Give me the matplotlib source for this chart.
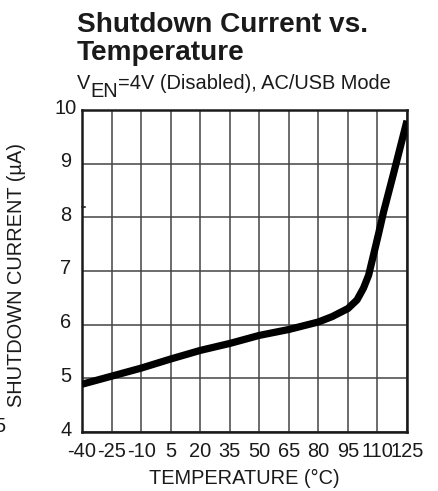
import matplotlib
matplotlib.use("Agg")
import matplotlib.pyplot as plt
import matplotlib.transforms as mtransforms

# Data
temperature = [-40, -25, -10, 5, 20, 35, 50, 65, 80, 87, 95, 99.6, 102.9, 105.5,
               108, 110.6, 113.1, 118.2, 125]
current = [4.89, 5.04, 5.19, 5.36, 5.52, 5.65, 5.80, 5.91, 6.05, 6.15, 6.30, 6.46,
           6.68, 6.92, 7.30, 7.70, 8.10, 8.82, 9.80]
x_ticks = [-40, -25, -10, 5, 20, 35, 50, 65, 80, 95, 110, 125]
y_ticks = [4, 5, 6, 7, 8, 9, 10]

plt.rcParams['font.family'] = ['Liberation Sans', 'DejaVu Sans']

FS = 14.4
TXT = '#1a1a1a'
W, H = 439, 491
fig = plt.figure(figsize=(W / 100, H / 100), dpi=100)
ax = fig.add_axes([82 / W, 1 - 432 / H, (407 - 82) / W, (432 - 110) / H])

ax.plot(temperature, current, color='black', lw=5.2, solid_capstyle='butt',
        solid_joinstyle='round', zorder=3)

ax.set_xlim(-40, 125)
ax.set_ylim(4, 10)
ax.set_xticks(x_ticks)
ax.set_yticks(y_ticks)
ax.set_xticklabels([str(v) for v in x_ticks], fontsize=FS, color=TXT)
ax.set_yticklabels([str(v) for v in y_ticks], fontsize=FS, color=TXT, ha='center')
ax.tick_params(axis='both', length=0)
ax.tick_params(axis='x', pad=7)
ax.tick_params(axis='y', pad=11.5)
off = mtransforms.ScaledTranslation(0, 4 / 100, fig.dpi_scale_trans)
for lab in ax.get_yticklabels():
    lab.set_transform(lab.get_transform() + off)

ax.grid(True, color='#444444', lw=1.1)
ax.set_axisbelow(True)
for s in ax.spines.values():
    s.set_linewidth(1.8)
    s.set_color(TXT)

# small stray tick near 8
ax.plot([-40, -38.5], [8.2, 8.2], color='#222222', lw=1.2, clip_on=False, zorder=4)

ax.set_xlabel('TEMPERATURE (°C)', fontsize=FS, color=TXT, labelpad=6)
fig.text(17 / W, 1 - 275 / H, 'SHUTDOWN CURRENT (µA)', rotation=90,
         fontsize=FS, color=TXT, ha='center', va='center')

fig.text(77 / W, 1 - 32 / H, 'Shutdown Current vs.', fontsize=20.2,
         fontweight='bold', color=TXT, ha='left', va='baseline')
fig.text(77 / W, 1 - 60 / H, 'Temperature', fontsize=20.2,
         fontweight='bold', color=TXT, ha='left', va='baseline')

# subtitle: V with full-size lowered "EN"
renderer = fig.canvas.get_renderer()
x0 = 77
base = 89
t1 = fig.text(x0 / W, 1 - base / H, 'V', fontsize=FS, color=TXT, ha='left', va='baseline')
w1 = t1.get_window_extent(renderer).width
t2 = fig.text((x0 + w1) / W, 1 - (base + 8) / H, 'EN', fontsize=FS, color=TXT,
              ha='left', va='baseline')
w2 = t2.get_window_extent(renderer).width
fig.text((x0 + w1 + w2) / W, 1 - base / H, '=4V (Disabled), AC/USB Mode',
         fontsize=FS, color=TXT, ha='left', va='baseline')

# partial digit from neighbouring chart at far left
fig.text(-6 / W, 1 - 432 / H, '5', fontsize=FS, color=TXT, ha='left', va='baseline')

fig.savefig('out.png', dpi=100)
